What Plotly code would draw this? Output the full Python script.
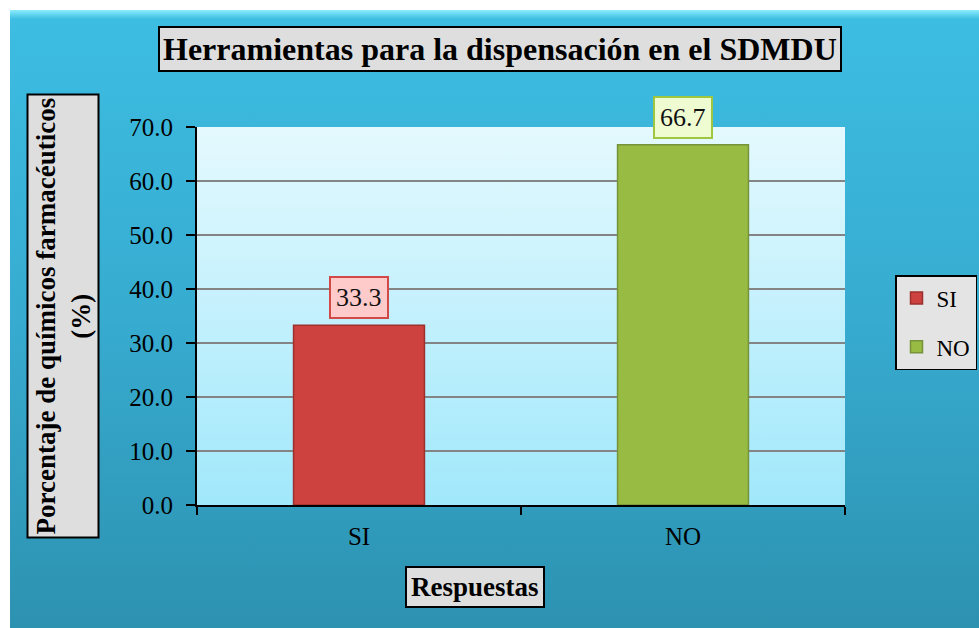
import base64
import plotly.graph_objects as go

# ---- data ----
categories = ["SI", "NO"]
values = [33.3, 66.7]
y_ticks = [0, 10, 20, 30, 40, 50, 60, 70]
title_text = "Herramientas para la dispensación en el SDMDU"
y_title = "Porcentaje de químicos farmacéuticos<br>(%)"
x_title = "Respuestas"

bar_colors = ["#cd413e", "#98bb44"]
bar_lines = ["#9c302e", "#76933a"]
label_bg = ["#ffcaca", "#effcd2"]
label_border = ["#d24a48", "#9ec63e"]

FONT = "Times New Roman, Liberation Serif, serif"
W, H = 979, 628
L, R, T, B = 197, 134, 127, 123
PW, PH = W - L - R, H - T - B


def px_x(p):
    return (p - L) / PW


def px_y(p):
    return (H - B - p) / PH


def grad_svg(stops):
    st = "".join(f'<stop offset="{o}" stop-color="{c}"/>' for o, c in stops)
    svg = ('<svg xmlns="http://www.w3.org/2000/svg" width="100" height="100" '
           'viewBox="0 0 100 100" preserveAspectRatio="none">'
           f'<defs><linearGradient id="g" x1="0" y1="0" x2="0" y2="1">{st}</linearGradient></defs>'
           '<rect x="0" y="0" width="100" height="100" fill="url(#g)"/></svg>')
    return "data:image/svg+xml;base64," + base64.b64encode(svg.encode()).decode()


outer = grad_svg([(0, "#8cecfb"), (0.008, "#5fd3ef"), (0.015, "#3dbde2"),
                  (0.5, "#37abd0"), (1, "#2d92b0")])
inner = grad_svg([(0, "#e4f9fe"), (1, "#a1e8fb")])

fig = go.Figure()
for i, (c, v) in enumerate(zip(categories, values)):
    fig.add_trace(go.Bar(
        x=[c], y=[v], name=c, width=0.404, legendgroup=c,
        marker=dict(color=bar_colors[i], line=dict(color=bar_lines[i], width=1.5)),
        showlegend=True,
    ))
    fig.add_annotation(
        x=c, y=v, xref="x", yref="y", text=f"{v:.1f}", showarrow=False,
        yanchor="bottom", yshift=6, font=dict(family=FONT, size=26, color="#111"),
        bgcolor=label_bg[i], bordercolor=label_border[i], borderwidth=2, borderpad=5,
    )

# title box
fig.add_annotation(
    x=px_x(500), y=px_y(49.5), xref="paper", yref="paper", text=f"<b>{title_text}</b>",
    showarrow=False, xanchor="center", yanchor="middle",
    font=dict(family=FONT, size=32, color="#000"),
    bgcolor="#dedede", bordercolor="#000", borderwidth=2, borderpad=3,
)
# y title box
fig.add_annotation(
    x=px_x(62.5), y=px_y(316), xref="paper", yref="paper", text=f"<b>{y_title}</b>",
    showarrow=False, textangle=-90, xanchor="center", yanchor="middle",
    font=dict(family=FONT, size=27, color="#000"),
    bgcolor="#dedede", bordercolor="#000", borderwidth=2, borderpad=2,
)
# x title box
fig.add_annotation(
    x=px_x(474.5), y=px_y(586.5), xref="paper", yref="paper", text=f"<b>{x_title}</b>",
    showarrow=False, xanchor="center", yanchor="middle",
    font=dict(family=FONT, size=27, color="#000"),
    bgcolor="#dedede", bordercolor="#000", borderwidth=2, borderpad=4,
)

fig.update_layout(
    width=W, height=H, autosize=False,
    margin=dict(l=L, r=R, t=T, b=B, pad=0, autoexpand=False),
    paper_bgcolor="white",
    plot_bgcolor="rgba(0,0,0,0)",
    barmode="overlay",
    font=dict(family=FONT, size=25, color="#000"),
    images=[
        dict(source=outer, xref="paper", yref="paper", x=px_x(10), y=px_y(10),
             sizex=px_x(979) - px_x(10), sizey=px_y(10) - px_y(628),
             xanchor="left", yanchor="top", sizing="stretch", layer="below"),
        dict(source=inner, xref="paper", yref="paper", x=0, y=1, sizex=1, sizey=1,
             xanchor="left", yanchor="top", sizing="stretch", layer="below"),
    ],
    legend=dict(
        x=px_x(895), y=px_y(275), xanchor="left", yanchor="top",
        bgcolor="#e4e4e4", bordercolor="#000", borderwidth=1.5,
        font=dict(family=FONT, size=23, color="#000"),
        itemwidth=30, traceorder="grouped", tracegroupgap=16,
    ),
    xaxis=dict(
        type="category", categoryorder="array", categoryarray=categories,
        range=[-0.5, 1.5], showline=True, linecolor="#000", linewidth=2,
        ticks="outside", tickson="boundaries", ticklen=8, tickcolor="#000", tickwidth=1.5,
        tickfont=dict(family=FONT, size=25, color="#000"), showgrid=False,
        ticklabelstandoff=8,
    ),
    yaxis=dict(
        range=[0, 70], tickvals=y_ticks, tickformat=".1f",
        showline=True, linecolor="#000", linewidth=2,
        ticks="outside", ticklen=9, tickcolor="#000", tickwidth=1.5,
        showgrid=True, gridcolor="#848484", gridwidth=1.5, zeroline=False,
        tickfont=dict(family=FONT, size=25, color="#000"),
        ticklabelstandoff=8,
    ),
)

fig.write_html("out.html", config={"responsive": False, "displayModeBar": False},
               post_script="document.body.style.margin='0';document.body.style.overflow='hidden';")
